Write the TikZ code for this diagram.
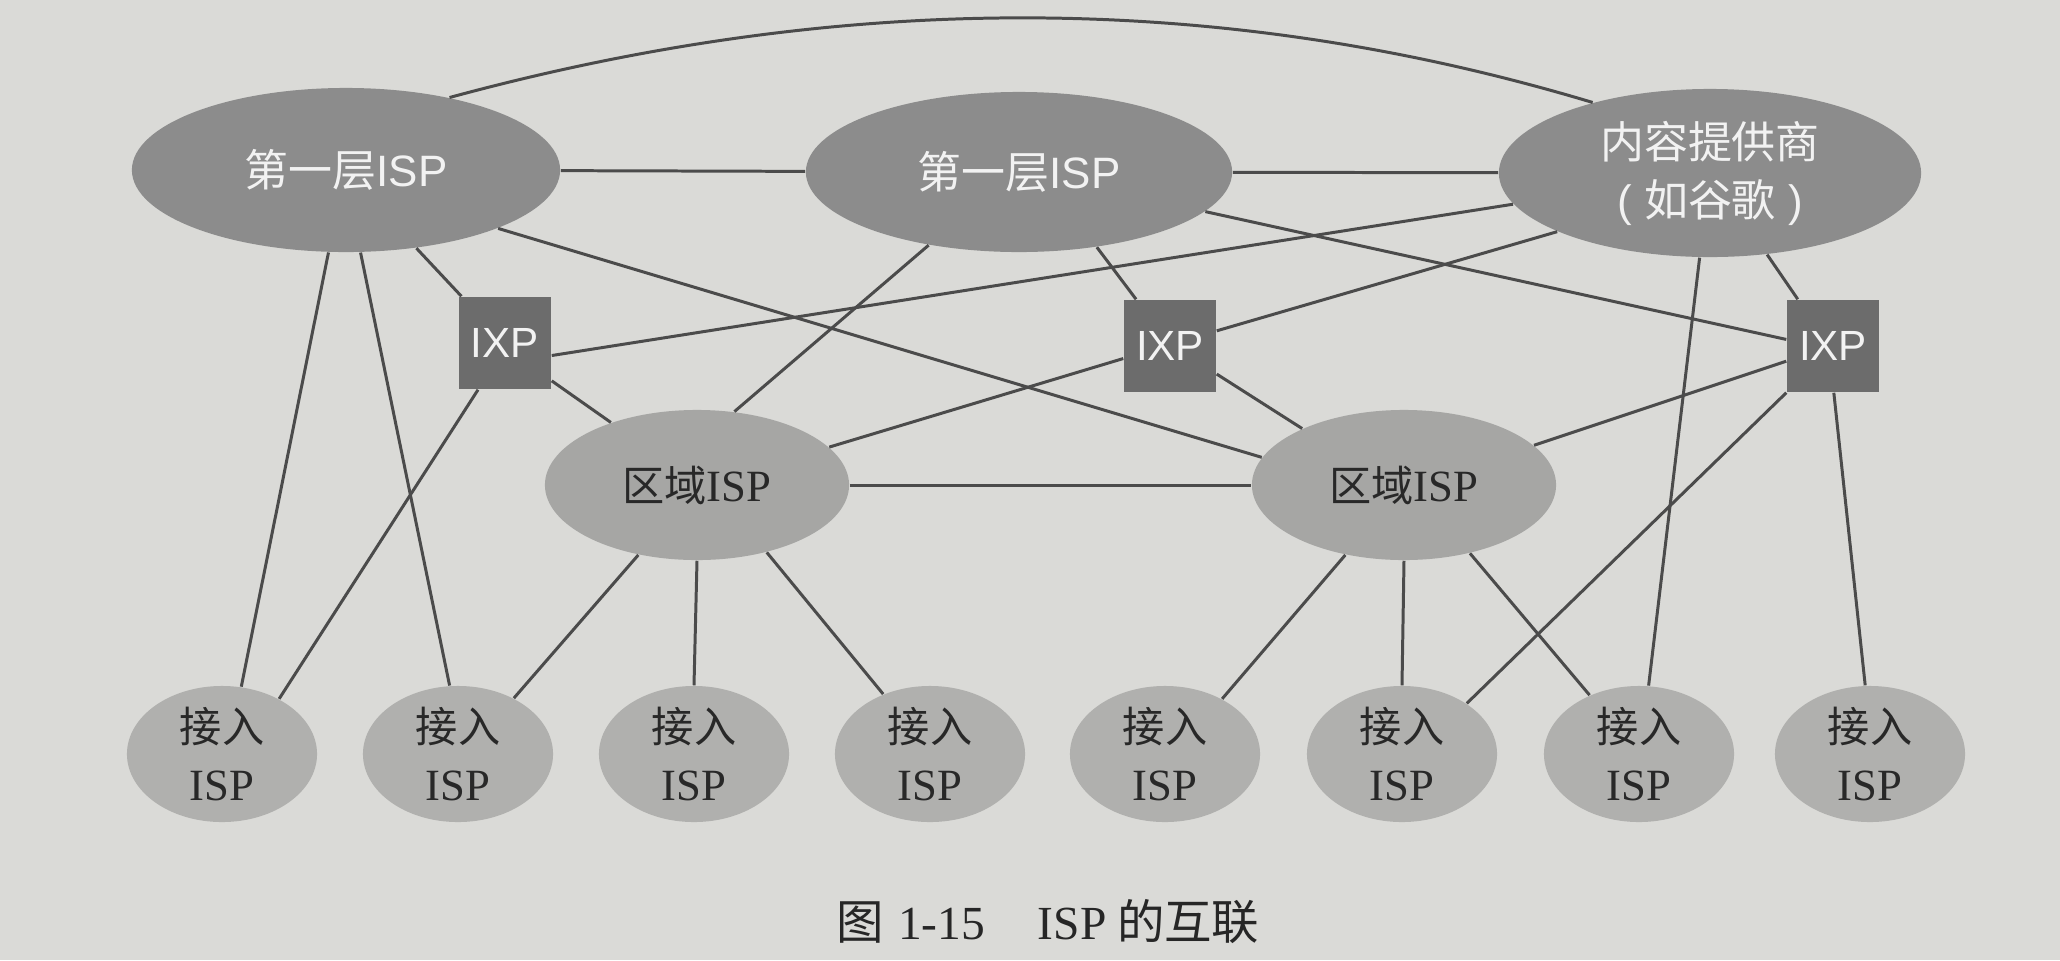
\documentclass[tikz,border=0pt]{standalone}
\usepackage{fontspec}
\setmainfont{Liberation Serif}
\newfontfamily\cjk{Noto Sans CJK SC}
\newfontfamily\hsans{Liberation Sans}
\newcommand\ispword{{\fontsize{12.7}{16.5}\selectfont ISP}}
\usetikzlibrary{shapes.geometric}
\definecolor{bgc}{RGB}{218,218,215}
\definecolor{tierc}{RGB}{140,140,140}
\definecolor{ixpc}{RGB}{108,108,108}
\definecolor{regc}{RGB}{166,166,164}
\definecolor{accc}{RGB}{176,176,174}
\definecolor{linec}{RGB}{75,75,75}
\definecolor{wtext}{RGB}{242,242,242}
\definecolor{btext}{RGB}{40,40,40}
\begin{document}
\begin{tikzpicture}[x=0.01cm,y=-0.01cm,
  tierisp/.style={ellipse,fill=tierc,inner sep=0pt,text=wtext,align=center,
    font=\fontsize{12.5}{16.5}\selectfont},
  ixpbox/.style={rectangle,fill=ixpc,inner sep=0pt,minimum size=0.92cm,text=wtext,
    font=\hsans\fontsize{12}{14}\selectfont},
  regisp/.style={ellipse,fill=regc,inner sep=0pt,minimum width=3.04cm,minimum height=1.5cm,
    text=btext,font=\fontsize{12}{16.5}\selectfont},
  accisp/.style={ellipse,fill=accc,inner sep=0pt,minimum width=1.9cm,minimum height=1.36cm,
    text=btext,align=center,font=\fontsize{12}{16.5}\selectfont},
  link/.style={draw=linec,line width=0.85pt},
  captext/.style={text=black!85,font=\fontsize{13.5}{16}\selectfont}]
\fill[bgc] (0,0) rectangle (2060,960);
\useasboundingbox (0,0) rectangle (2060,960);
% tier-1 and content provider
\node[tierisp,minimum width=4.28cm,minimum height=1.64cm] (t1l) at (346,170) {{\cjk 第一层}{\hsans ISP}};
\node[tierisp,minimum width=4.26cm,minimum height=1.60cm] (t1m) at (1019,172) {{\cjk 第一层}{\hsans ISP}};
\node[tierisp,minimum width=4.22cm,minimum height=1.68cm] (cp) at (1710,173) {{\cjk 内容提供商}\\{\hsans (\ }{\cjk 如谷歌}{\hsans \ )}};
% IXPs
\node[ixpbox] (ixp1) at (505,343) {IXP};
\node[ixpbox] (ixp2) at (1170,346) {IXP};
\node[ixpbox] (ixp3) at (1833,346) {IXP};
% regional
\node[regisp] (r1) at (697,485) {{\cjk 区域}\ispword};
\node[regisp] (r2) at (1404,485) {{\cjk 区域}\ispword};
% access
\node[accisp] (a1) at (222,754) {{\cjk 接入}\\\ispword};
\node[accisp] (a2) at (458,754) {{\cjk 接入}\\\ispword};
\node[accisp] (a3) at (694,754) {{\cjk 接入}\\\ispword};
\node[accisp] (a4) at (930,754) {{\cjk 接入}\\\ispword};
\node[accisp] (a5) at (1165,754) {{\cjk 接入}\\\ispword};
\node[accisp] (a6) at (1402,754) {{\cjk 接入}\\\ispword};
\node[accisp] (a7) at (1639,754) {{\cjk 接入}\\\ispword};
\node[accisp] (a8) at (1870,754) {{\cjk 接入}\\\ispword};
% caption
\node[captext] (cap) at (1048,922) {{\cjk 图}\hspace{4pt}1-15\hspace{15pt}ISP\hspace{3pt}{\cjk 的互联}};
% links
\draw[link] (t1l.35) .. controls (845,-10) and (1222,-9) .. (cp.149);
\draw[link] (t1l) -- (t1m);
\draw[link] (t1m) -- (cp);
\draw[link] (t1l.-48) -- (ixp1.133);
\draw[link] (t1l.-102) -- (a1.74);
\draw[link] (t1l.-80) -- (a2.97);
\draw[link] (t1l.-21.7) -- (r2.169);
\draw[link] (ixp1.-15) -- (cp.-171);
\draw[link] (ixp1.-39) -- (r1.144);
\draw[link] (ixp1.-120) -- (a1.44.5);
\draw[link] (t1m.-141) -- (r1.63);
\draw[link] (t1m.-44) -- (ixp2.126);
\draw[link] (t1m.-12.6) -- (ixp3.172.6);
\draw[link] (cp.-159) -- (ixp2.18);
\draw[link] (cp.-55) -- (ixp3.127);
\draw[link] (cp.-97) -- (a7.82);
\draw[link] (ixp2.-165) -- (r1.16);
\draw[link] (ixp2.-31) -- (r2.151);
\draw[link] (ixp3.-162) -- (r2.17.8);
\draw[link] (ixp3.-135) -- (a6.38);
\draw[link] (ixp3.-89) -- (a8.94.5);
\draw[link] (r1) -- (r2);
\draw[link] (r1.-130) -- (a2.45.5);
\draw[link] (r1.-90) -- (a3.90);
\draw[link] (r1.-44) -- (a4.128);
\draw[link] (r2.-130) -- (a5.44.5);
\draw[link] (r2.-90) -- (a6.90);
\draw[link] (r2.-46) -- (a7.130);
\end{tikzpicture}
\end{document}
